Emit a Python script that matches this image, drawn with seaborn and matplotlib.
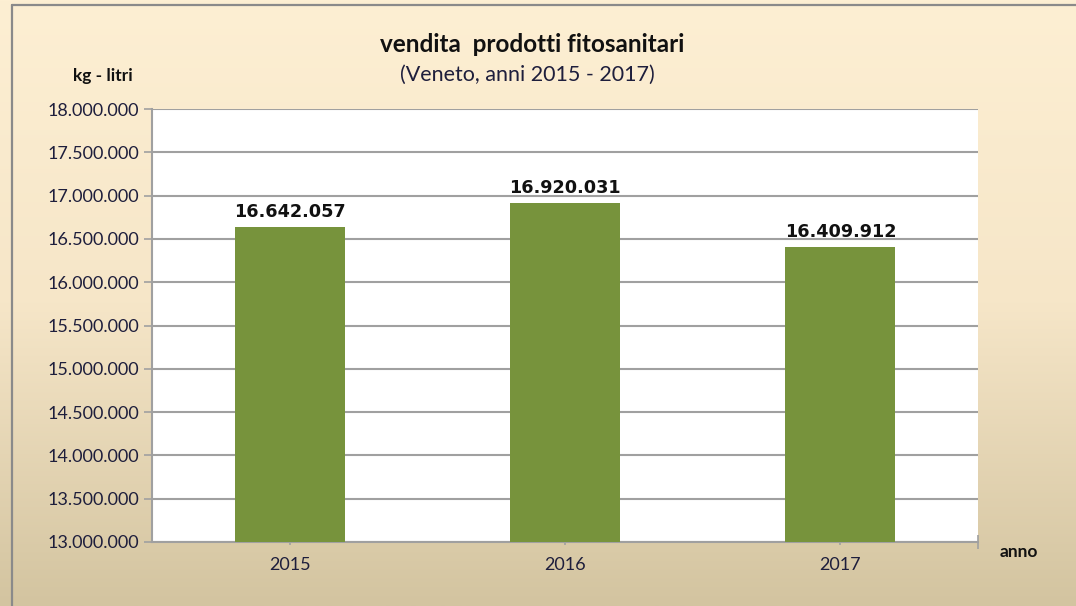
import numpy as np
import pandas as pd
import matplotlib.pyplot as plt
import seaborn as sns
from matplotlib.colors import LinearSegmentedColormap
from matplotlib.ticker import FuncFormatter
from matplotlib.lines import Line2D

# dati
anni = ['2015', '2016', '2017']
vendite = [16642057, 16920031, 16409912]

df = pd.DataFrame({'anno': anni, 'vendite': vendite})

sns.set_style('white')
plt.rcParams['font.family'] = ['Lato', 'DejaVu Sans']

def fmt_it(v, pos=None):
    return f'{int(round(v)):,}'.replace(',', '.')

fig = plt.figure(figsize=(10.76, 6.06), dpi=100)

# sfondo sfumato
bg = fig.add_axes([0, 0, 1, 1], zorder=-2)
cmap = LinearSegmentedColormap.from_list('bg', ['#fdefd3', '#f6e6c8', '#d3c4a0'])
grad = np.linspace(0, 1, 256).reshape(-1, 1)
bg.imshow(grad, aspect='auto', cmap=cmap, extent=[0, 1, 0, 1])
bg.axis('off')

# cornice
fig.add_artist(Line2D([12 / 1076, 12 / 1076], [0, 1 - 5 / 606], color='#8a8a8a', lw=1.6))
fig.add_artist(Line2D([12 / 1076, 1], [1 - 5 / 606, 1 - 5 / 606], color='#8a8a8a', lw=1.6))

ax = fig.add_axes([152 / 1076, 64 / 606, 826 / 1076, 433 / 606])
ax.set_facecolor('white')

sns.barplot(data=df, x='anno', y='vendite', color='#77933c', width=0.4,
            saturation=1, linewidth=0, ax=ax, zorder=3)

ax.set_ylim(13000000, 18000000)
ax.set_yticks(np.arange(13000000, 18000001, 500000))
ax.yaxis.set_major_formatter(FuncFormatter(fmt_it))
ax.grid(axis='y', color='#a0a0a0', lw=1.5, zorder=0)
ax.set_axisbelow(True)

for s in ['top', 'right']:
    ax.spines[s].set_visible(False)
for s in ['left', 'bottom']:
    ax.spines[s].set_color('#a0a0a0')
    ax.spines[s].set_linewidth(1.5)

ax.tick_params(axis='y', left=True, length=6, width=1.2, color='#a0a0a0',
               labelsize=13, labelcolor='#1e1e3c', pad=3)
ax.tick_params(axis='x', bottom=True, length=5, width=1.2, color='#a0a0a0',
               labelsize=13, labelcolor='#1e1e3c', pad=8, direction='inout')
# tacca finale dell'asse x
ax.set_xticks([ax.get_xlim()[1]], minor=True)
ax.tick_params(axis='x', which='minor', bottom=True, length=10, width=1.2,
               color='#a0a0a0', direction='inout')
ax.set_xlabel('')
ax.set_ylabel('')

# etichette dei valori
ax.bar_label(ax.containers[0], labels=[fmt_it(v) for v in vendite],
             padding=4, fontsize=12.7, fontweight='bold', color='#111111',
             family='DejaVu Sans')

fig.text(532 / 1076, 1 - 45 / 606, 'vendita  prodotti fitosanitari', ha='center',
         va='center', fontsize=17.5, fontweight='bold', color='#111111')
fig.text(527 / 1076, 1 - 75 / 606, '(Veneto, anni 2015 - 2017)', ha='center',
         va='center', fontsize=15.5, color='#1e1e3c')
fig.text(103 / 1076, 1 - 76 / 606, 'kg - litri', ha='center', va='center',
         fontsize=12.5, fontweight='bold', color='#111111')
fig.text(1019 / 1076, 1 - 552 / 606, 'anno', ha='center', va='center',
         fontsize=12.5, fontweight='bold', color='#111111')

fig.savefig('out.png', dpi=100)
